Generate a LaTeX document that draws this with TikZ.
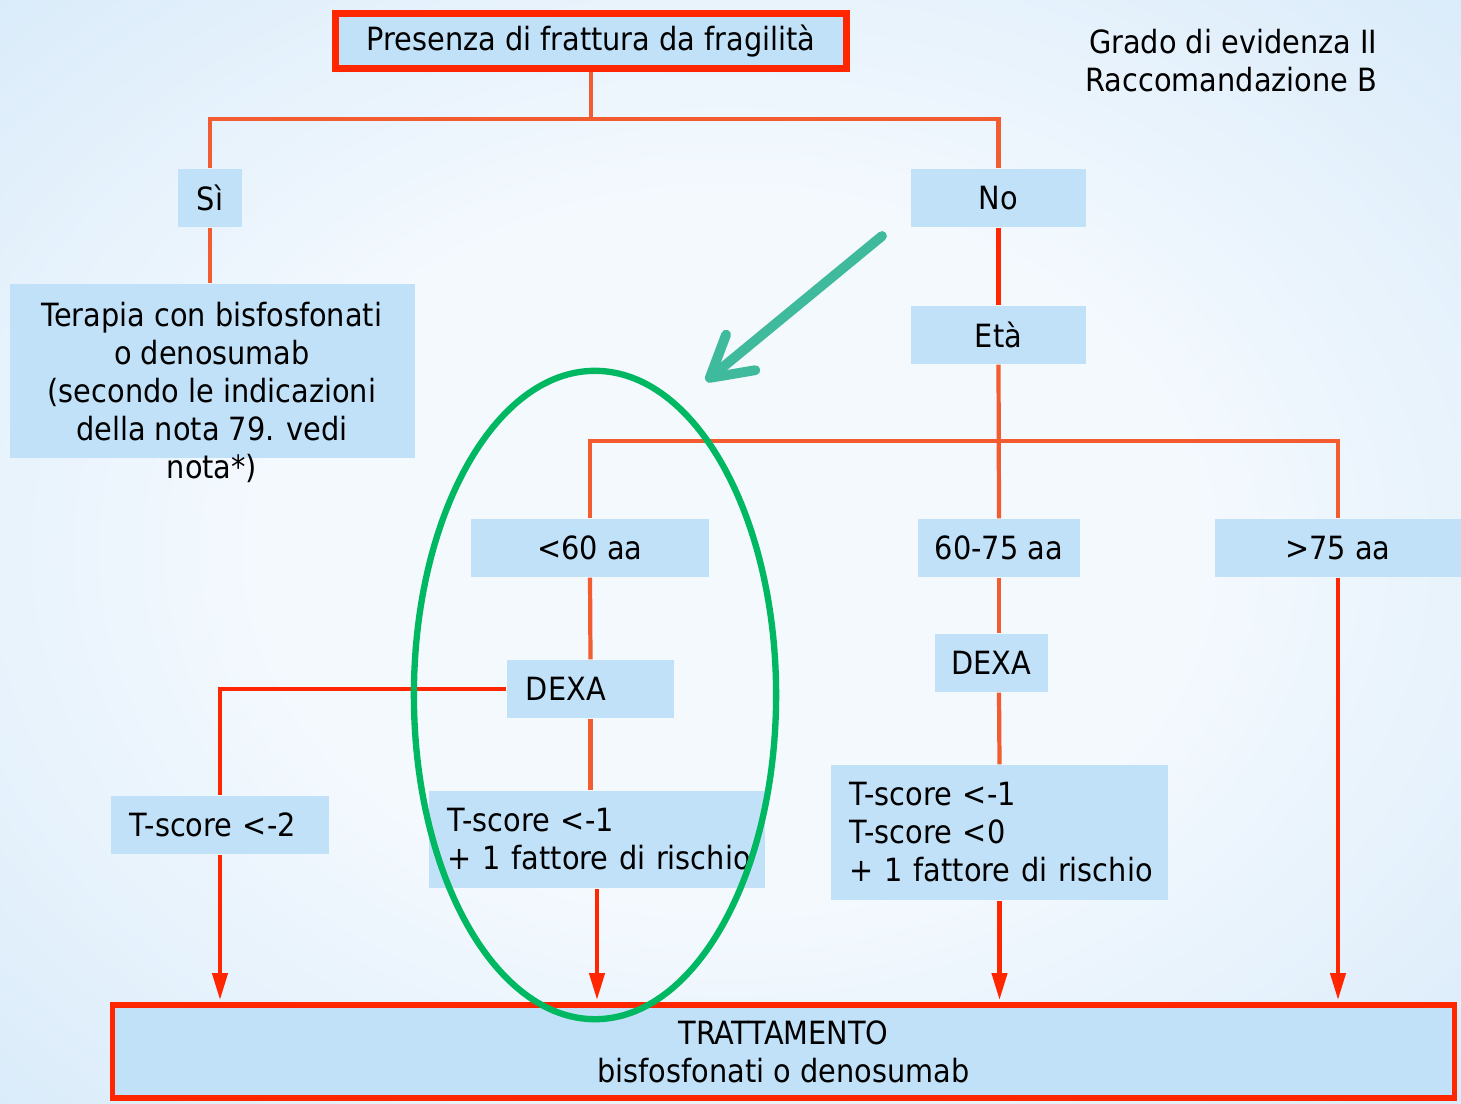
\documentclass[tikz,border=0pt]{standalone}
\usepackage{fontspec}
\setmainfont{DejaVu Sans Condensed}
\usetikzlibrary{arrows.meta, positioning}
\definecolor{boxblue}{RGB}{193,225,248}
\definecolor{lineorange}{RGB}{242,92,48}
\definecolor{linered}{RGB}{255,38,0}
\definecolor{ringgreen}{RGB}{0,184,98}
\definecolor{hintteal}{RGB}{64,186,156}
\definecolor{bgin}{RGB}{244,249,254}
\definecolor{bgout}{RGB}{196,224,246}
\pgfdeclareradialshading{slidebg}{\pgfpoint{0bp}{0bp}}{color(0bp)=(bgin); color(16bp)=(bgin); color(52bp)=(bgout); color(71bp)=(bgout)}

\begin{document}
\begin{tikzpicture}[x=0.01cm, y=-0.01cm, every node/.style={font=\fontsize{9.1}{10.8}\selectfont},
	box/.style={fill=boxblue, inner sep=0pt, minimum height=0.58cm},
	leftbox/.style={box, align=left, inner xsep=0.19cm},
	lnor/.style={draw=lineorange, line width=1.2pt},
	lnred/.style={draw=linered, line width=1.2pt},
	arr/.style={lnred, shorten >=0.6pt, -{Triangle[length=0.27cm, width=0.15cm]}}]

	\useasboundingbox (0,0) rectangle (1461,1103);
	\shade[shading=slidebg] (0,0) rectangle (1461,1103);

	% question and answers
	\node[box, draw=linered, line width=2pt, minimum width=5.11cm, minimum height=0.55cm] (frattura) at (591,41) {Presenza di frattura da fragilità};
	\node[align=right, anchor=east, inner sep=0pt] (grado) at (1378,61) {Grado di evidenza II\\Raccomandazione B};
	\coordinate (split1) at (591,119);

	\node[box, minimum width=0.64cm] (si) at (210,198) {Sì};
	\node[box, minimum width=1.75cm] (no) at (998.5,198) {No};

	\node[box, minimum width=4.05cm, minimum height=1.74cm] (terapia) at (212.5,371) {};
	\node[anchor=north, align=center] (terapiatxt) at (212,290) {Terapia con bisfosfonati\\o denosumab\\(secondo le indicazioni\\della nota 79. vedi\\nota*)};

	% age groups
	\node[box, minimum width=1.75cm] (eta) at (998.5,335) {Età};
	\coordinate (split2) at (999,441);
	\node[box, minimum width=2.38cm] (under60) at (590,548) {<60 aa};
	\node[box, minimum width=1.62cm] (mid) at (999,548) {60-75 aa};
	\node[box, minimum width=2.46cm] (over75) at (1338,548) {>75 aa};

	\node[leftbox, text width=1.29cm] (dexaA) at (590.5,689) {DEXA};
	\node[box, minimum width=1.13cm] (dexaB) at (991.5,663) {DEXA};

	\node[leftbox, text width=1.8cm] (tsA) at (220,825) {T-score <-2};
	\node[leftbox, text width=2.98cm, minimum height=0.97cm] (tsB) at (597,839.5) {T-score <-1\\\mbox{+ 1 fattore di rischio}};
	\node[leftbox, text width=2.99cm, minimum height=1.35cm] (tsC) at (999.5,832.5) {T-score <-1\\T-score <0\\\mbox{+ 1 fattore di rischio}};

	\node[box, draw=linered, line width=1.6pt, minimum width=13.41cm, minimum height=0.93cm, align=center] (trat) at (783.5,1051.5) {TRATTAMENTO\\bisfosfonati o denosumab};

	% connectors
	\draw[lnor] (frattura.south) -- (split1);
	\draw[lnor] (si.north) |- (split1) -| (no.north);
	\draw[lnor] (si.south) -- (si.south |- terapia.north);
	\draw[lnred] (no.south) -- (eta.north);
	\draw[lnor] (eta.south) -- (mid.north);
	\draw[lnor] (under60.north) |- (split2) -| (over75.north);
	\draw[lnor] (under60.south) -- (dexaA.north);
	\draw[lnred] (dexaA.west) -| (tsA.north);
	\draw[lnor] (dexaA.south) -- (dexaA.south |- tsB.north);
	\draw[lnor] (mid.south) -- (mid.south |- dexaB.north);
	\draw[lnor] (mid.south |- dexaB.south) -- (tsC.north);

	\draw[arr] (tsA.south) -- (tsA.south |- trat.north);
	\draw[arr] (tsB.south) -- (tsB.south |- trat.north);
	\draw[arr] (tsC.south) -- (tsC.south |- trat.north);
	\draw[arr] (over75.south) -- (over75.south |- trat.north);

	% highlight
	\draw[ringgreen, line width=1.8pt] (595,695) ellipse [x radius=1.81cm, y radius=3.24cm];
	\coordinate (hintstart) at (882,236);
	\coordinate (hintend) at (706,381);
	\draw[hintteal, line width=2.8pt, line cap=round, -{Straight Barb[length=0.4cm, width=0.46cm, round]}] (hintstart) -- (hintend);
\end{tikzpicture}
\end{document}
